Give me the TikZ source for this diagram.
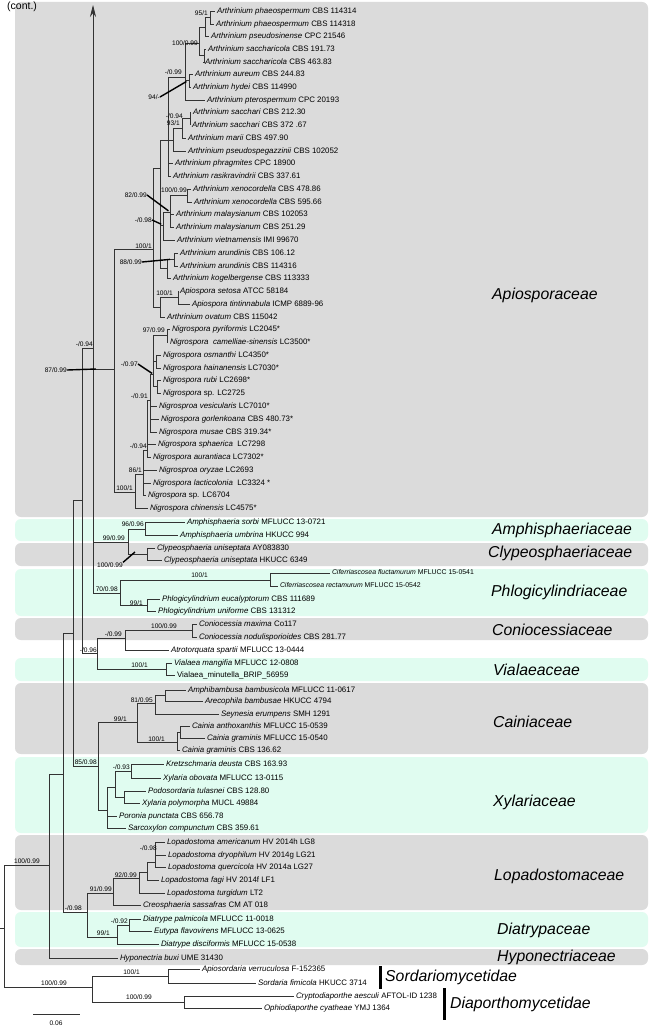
\documentclass[tikz,border=0pt]{standalone}
\usepackage{fontspec}
\setmainfont{Liberation Sans}
\usetikzlibrary{arrows.meta}
\definecolor{boxgray}{RGB}{219,219,219}
\definecolor{boxmint}{RGB}{224,252,240}
\newcommand\lf[5]{\node[tx] (#1) at (#2-2,#3) {\textit{#4}#5};}
\newcommand\lfs[5]{\node[tx,txs] (#1) at (#2-2,#3) {\textit{#4}#5};}
\newcommand\sv[4]{\node[sp] (#1) at (#2,#3) {#4};}
\newcommand\ed[2]{\draw[br] (#1) |- (#2);}
\begin{document}
\begin{tikzpicture}[x=1pt,y=-1pt,
 tx/.style={anchor=west,inner xsep=0pt,inner ysep=0pt,outer xsep=2pt,outer ysep=0pt,text height=5.6pt,text depth=1.5pt,font=\fontsize{7.9}{8}\selectfont},
 txs/.style={font=\fontsize{6.9}{7}\selectfont,text height=4.9pt,text depth=1.3pt},
 sp/.style={anchor=east,inner sep=0pt,font=\fontsize{6.6}{7}\selectfont},
 fam/.style={anchor=west,inner sep=0pt,font=\fontsize{15.8}{16}\selectfont\itshape},
 br/.style={line width=0.7pt,draw=black!80},
 ptr/.style={line width=1.4pt,draw=black},
 gbox/.style={fill=boxgray,rounded corners=6pt},
 mbox/.style={fill=boxmint,rounded corners=6pt}]
\fill[white] (0,0) rectangle (651,1027);
\useasboundingbox (0,0) rectangle (651,1027);
% family boxes
\fill[gbox] (15,2) rectangle (648,517);
\fill[mbox] (15,519) rectangle (648,541);
\fill[gbox] (15,543) rectangle (648,566);
\fill[mbox] (15,569) rectangle (648,616);
\fill[gbox] (15,618) rectangle (648,640);
\fill[mbox] (15,658) rectangle (648,681);
\fill[gbox] (15,683) rectangle (648,754);
\fill[mbox] (15,757) rectangle (648,833);
\fill[gbox] (15,835) rectangle (648,910);
\fill[mbox] (15,912) rectangle (648,947);
\fill[gbox] (15,949) rectangle (648,965);
% family labels
\node[fam] (f1) at (492,295) {Apiosporaceae};
\node[fam] (f2) at (492,530) {Amphisphaeriaceae};
\node[fam] (f3) at (488,553) {Clypeosphaeriaceae};
\node[fam] (f4) at (491,592) {Phlogicylindriaceae};
\node[fam] (f5) at (492,630) {Coniocessiaceae};
\node[fam] (f6) at (493,670) {Vialaeaceae};
\node[fam] (f7) at (493,722) {Cainiaceae};
\node[fam] (f8) at (493,802) {Xylariaceae};
\node[fam] (f9) at (494,876) {Lopadostomaceae};
\node[fam] (f10) at (497,930) {Diatrypaceae};
\node[fam] (f11) at (497,957) {Hyponectriaceae};
\node[fam] (f12) at (385,977) {Sordariomycetidae};
\node[fam] (f13) at (450,1004) {Diaporthomycetidae};
\coordinate (b1t) at (380,966); \coordinate (b1b) at (380,989);
\coordinate (b2t) at (444,988); \coordinate (b2b) at (444,1020);
\draw[line width=3pt] (b1t) -- (b1b);
\draw[line width=3pt] (b2t) -- (b2b);
\node[anchor=west,inner sep=0pt,font=\fontsize{10.5}{11}\selectfont] (cont) at (7,7) {(cont.)};
% leaves
\lf{L1}{217}{11}{Arthrinium phaeospermum}{ CBS 114314}
\lf{L2}{216}{24}{Arthrinium phaeospermum}{ CBS 114318}
\lf{L3}{211}{36}{Arthrinium pseudosinense}{ CPC 21546}
\lf{L4}{208}{49}{Arthrinium saccharicola}{ CBS 191.73}
\lf{L5}{205}{62}{Arthrinium saccharicola}{ CBS 463.83}
\lf{L6}{195}{74}{Arthrinium aureum}{ CBS 244.83}
\lf{L7}{193}{87}{Arthrinium hydei}{ CBS 114990}
\lf{L8}{207}{100}{Arthrinium pterospermum}{ CPC 20193}
\lf{L9}{193}{112}{Arthrinium sacchari}{ CBS 212.30}
\lf{L10}{192}{125}{Arthrinium sacchari}{ CBS 372 .67}
\lf{L11}{188}{138}{Arthrinium marii}{ CBS 497.90}
\lf{L12}{188}{151}{Arthrinium pseudospegazzinii}{ CBS 102052}
\lf{L13}{175}{163}{Arthrinium phragmites}{ CPC 18900}
\lf{L14}{173}{176}{Arthrinium rasikravindrii}{ CBS 337.61}
\lf{L15}{193}{189}{Arthrinium xenocordella}{ CBS 478.86}
\lf{L16}{194}{202}{Arthrinium xenocordella}{ CBS 595.66}
\lf{L17}{176}{214}{Arthrinium malaysianum}{ CBS 102053}
\lf{L18}{176}{227}{Arthrinium malaysianum}{ CBS 251.29}
\lf{L19}{177}{240}{Arthrinium vietnamensis}{ IMI 99670}
\lf{L20}{180}{253}{Arthrinium arundinis}{ CBS 106.12}
\lf{L21}{180}{266}{Arthrinium arundinis}{ CBS 114316}
\lf{L22}{173}{278}{Arthrinium kogelbergense}{ CBS 113333}
\lf{L23}{180}{291}{Apiospora setosa}{ ATCC 58184}
\lf{L24}{192}{304}{Apiospora tintinnabula}{ ICMP 6889-96}
\lf{L25}{167}{317}{Arthrinium ovatum}{ CBS 115042}
\lf{L26}{172}{329}{Nigrospora pyriformis}{ LC2045*}
\lf{L27}{170}{342}{Nigrospora\ \ camelliae-sinensis}{ LC3500*}
\lf{L28}{163}{355}{Nigrospora osmanthi}{ LC4350*}
\lf{L29}{163}{368}{Nigrospora hainanensis}{ LC7030*}
\lf{L30}{163}{380}{Nigrospora rubi}{ LC2698*}
\lf{L31}{163}{393}{Nigrospora}{ sp. LC2725}
\lf{L32}{159}{406}{Nigrosproa vesicularis}{ LC7010*}
\lf{L33}{161}{419}{Nigrospora gorlenkoana}{ CBS 480.73*}
\lf{L34}{159}{432}{Nigrospora musae}{ CBS 319.34*}
\lf{L35}{158}{444}{Nigrospora sphaerica}{\ \ LC7298}
\lf{L36}{153}{457}{Nigrospora aurantiaca}{ LC7302*}
\lf{L37}{159}{470}{Nigrosproa oryzae}{ LC2693}
\lf{L38}{153}{483}{Nigrospora lacticolonia}{\ \ LC3324 *}
\lf{L39}{148}{495}{Nigrospora}{ sp. LC6704}
\lf{L40}{150}{508}{Nigrospora chinensis}{ LC4575*}
\lf{M1}{187}{522}{Amphisphaeria sorbi}{ MFLUCC 13-0721}
\lf{M2}{180}{535}{Amphisphaeria umbrina}{ HKUCC 994}
\lf{M3}{157}{548}{Clypeosphaeria uniseptata}{ AY083830}
\lf{M4}{164}{560}{Clypeosphaeria uniseptata}{ HKUCC 6349}
\lfs{M5}{332}{573}{Ciferriascosea fluctamurum}{ MFLUCC 15-0541}
\lfs{M6}{280}{586}{Ciferriascosea rectamurum}{ MFLUCC 15-0542}
\lf{M7}{162}{599}{Phlogicylindrium eucalyptorum}{ CBS 111689}
\lf{M8}{158}{611}{Phlogicylindrium uniforme}{ CBS 131312}
\lf{M9}{199}{624}{Coniocessia maxima}{ Co117}
\lf{M10}{199}{637}{Coniocessia nodulisporioides}{ CBS 281.77}
\lf{M11}{171}{650}{Atrotorquata spartii}{ MFLUCC 13-0444}
\lf{M12}{174}{663}{Vialaea mangifia}{ MFLUCC 12-0808}
\lf{M13}{177}{675}{}{Vialaea\_minutella\_BRIP\_56959}
\lf{M14}{188}{690}{Amphibambusa bambusicola}{ MFLUCC 11-0617}
\lf{M15}{205}{701}{Arecophila bambusae}{ HKUCC 4794}
\lf{M16}{221}{714}{Seynesia erumpens}{ SMH 1291}
\lf{M17}{192}{726}{Cainia anthoxanthis}{ MFLUCC 15-0539}
\lf{M18}{207}{738}{Cainia graminis}{ MFLUCC 15-0540}
\lf{M19}{182}{750}{Cainia graminis}{ CBS 136.62}
\lf{M20}{166}{764}{Kretzschmaria deusta}{ CBS 163.93}
\lf{M21}{163}{778}{Xylaria obovata}{ MFLUCC 13-0115}
\lf{M22}{148}{791}{Podosordaria tulasnei}{ CBS 128.80}
\lf{M23}{142}{803}{Xylaria polymorpha}{ MUCL 49884}
\lf{M24}{119}{816}{Poronia punctata}{ CBS 656.78}
\lf{M25}{128}{828}{Sarcoxylon compunctum}{ CBS 359.61}
\lf{M26}{167}{842}{Lopadostoma americanum}{ HV 2014h LG8}
\lf{M27}{168}{855}{Lopadostoma dryophilum}{ HV 2014g LG21}
\lf{M28}{168}{867}{Lopadostoma quercicola}{ HV 2014a LG27}
\lf{M29}{161}{880}{Lopadostoma fagi}{ HV 2014f LF1}
\lf{M30}{167}{893}{Lopadostoma turgidum}{ LT2}
\lf{M31}{143}{905}{Creosphaeria sassafras}{ CM AT 018}
\lf{M32}{143}{919}{Diatrype palmicola}{ MFLUCC 11-0018}
\lf{M33}{154}{931}{Eutypa flavovirens}{ MFLUCC 13-0625}
\lf{M34}{161}{944}{Diatrype disciformis}{ MFLUCC 15-0538}
\lf{M35}{120}{958}{Hyponectria buxi}{ UME 31430}
\lf{M36}{202}{969}{Apiosordaria verruculosa}{ F-152365}
\lf{M37}{258}{983}{Sordaria fimicola}{ HKUCC 3714}
\lf{M38}{296}{996}{Cryptodiaporthe aesculi}{ AFTOL-ID 1238}
\lf{M39}{264}{1008}{Ophiodiaporthe cyatheae}{ YMJ 1364}
% internal nodes: Apiosporaceae
\coordinate (c12) at (210,17.5);
\coordinate (c123) at (205,27);
\coordinate (c45) at (204,55);
\coordinate (c15) at (199,43);
\coordinate (c67) at (189,80);
\coordinate (c18) at (185,77);
\coordinate (c910) at (190,118);
\coordinate (c911) at (182,128);
\coordinate (c912) at (173,140);
\coordinate (cA) at (168,140);
\coordinate (cXen) at (187,195);
\coordinate (cMal) at (170,212);
\coordinate (cMV) at (163,225);
\coordinate (cAru) at (174,259);
\coordinate (cAK) at (167,268);
\coordinate (cB) at (160,168);
\coordinate (cApo) at (178,297);
\coordinate (cAO) at (160,307);
\coordinate (cArth) at (153,249);
\coordinate (cPyr) at (167,335.5);
\coordinate (cOH) at (156,361.5);
\coordinate (cRS) at (157,386.5);
\coordinate (c97) at (153,374);
\coordinate (c91) at (150,400);
\coordinate (c94) at (147,450);
\coordinate (c86) at (143,474);
\coordinate (cNig) at (135,492);
\coordinate (cApio) at (114,369);
% internal nodes: rest
\coordinate (n93) at (93,348);
\coordinate (arrtop) at (93,5);
\coordinate (cAm) at (145,529);
\coordinate (cCl) at (147,554);
\coordinate (cAC) at (128,542);
\coordinate (cCif) at (270,580);
\coordinate (cPhl) at (147,605);
\coordinate (cPh) at (120,593);
\coordinate (cCo) at (192,630);
\coordinate (cCA) at (125,638);
\coordinate (cVi) at (166,669);
\coordinate (n97) at (97,653);
\coordinate (n82) at (82,500);
\coordinate (cAA) at (165,695);
\coordinate (c81) at (155,703);
\coordinate (cCG) at (180,732);
\coordinate (c100C) at (177,742);
\coordinate (cCai) at (137,722);
\coordinate (c93x) at (131,771);
\coordinate (c124) at (124,797);
\coordinate (c115) at (115,787);
\coordinate (cXy) at (107,810);
\coordinate (n98) at (98,766);
\coordinate (n73) at (73,633);
\coordinate (cL98) at (155,862);
\coordinate (cL147) at (147,872);
\coordinate (cL139) at (139,878);
\coordinate (cL91) at (113,893);
\coordinate (c92d) at (129,925);
\coordinate (cD99) at (117,937);
\coordinate (n87) at (87,912);
\coordinate (n63) at (63,774);
\coordinate (n49) at (49,865);
\coordinate (cSo) at (168,976);
\coordinate (cDi) at (184,1002);
\coordinate (cOut) at (92,987);
\coordinate (root) at (4,928);
\coordinate (rootst) at (0,928);
\coordinate (sb1) at (33,1014);
\coordinate (sb2) at (80,1014);
% edges
\ed{c12}{L1.west}\ed{c12}{L2.west}
\ed{c123}{c12}\ed{c123}{L3.west}
\ed{c45}{L4.west}\ed{c45}{L5.west}
\ed{c15}{c123}\ed{c15}{c45}
\ed{c67}{L6.west}\ed{c67}{L7.west}
\ed{c18}{c15}\ed{c18}{c67}\ed{c18}{L8.west}
\ed{c910}{L9.west}\ed{c910}{L10.west}
\ed{c911}{c910}\ed{c911}{L11.west}
\ed{c912}{c911}\ed{c912}{L12.west}
\ed{cA}{c18}\ed{cA}{c912}\ed{cA}{L13.west}\ed{cA}{L14.west}
\ed{cXen}{L15.west}\ed{cXen}{L16.west}
\ed{cMal}{cXen}\ed{cMal}{L17.west}\ed{cMal}{L18.west}
\ed{cMV}{cMal}\ed{cMV}{L19.west}
\ed{cAru}{L20.west}\ed{cAru}{L21.west}
\ed{cAK}{cAru}\ed{cAK}{L22.west}
\ed{cB}{cA}\ed{cB}{cMV}\ed{cB}{cAK}
\ed{cApo}{L23.west}\ed{cApo}{L24.west}
\ed{cAO}{cApo}\ed{cAO}{L25.west}
\ed{cArth}{cB}\ed{cArth}{cAO}
\ed{cPyr}{L26.west}\ed{cPyr}{L27.west}
\ed{cOH}{L28.west}\ed{cOH}{L29.west}
\ed{cRS}{L30.west}\ed{cRS}{L31.west}
\ed{c97}{cPyr}\ed{c97}{cOH}\ed{c97}{cRS}
\ed{c91}{c97}\ed{c91}{L32.west}\ed{c91}{L33.west}\ed{c91}{L34.west}
\ed{c94}{c91}\ed{c94}{L35.west}\ed{c94}{L36.west}
\ed{c86}{c94}\ed{c86}{L37.west}\ed{c86}{L38.west}\ed{c86}{L39.west}
\ed{cNig}{c86}\ed{cNig}{L40.west}
\ed{cApio}{cArth}\ed{cApio}{cNig}
\ed{n93}{cApio}\ed{n93}{cAC}\ed{n93}{cPh}
\draw[br,-{Stealth[length=12pt,width=6pt]}] (n93) -- (arrtop);
\ed{cAm}{M1.west}\ed{cAm}{M2.west}
\ed{cCl}{M3.west}\ed{cCl}{M4.west}
\ed{cAC}{cAm}\ed{cAC}{cCl}
\ed{cCif}{M5.west}\ed{cCif}{M6.west}
\ed{cPhl}{M7.west}\ed{cPhl}{M8.west}
\ed{cPh}{cCif}\ed{cPh}{cPhl}
\ed{cCo}{M9.west}\ed{cCo}{M10.west}
\ed{cCA}{cCo}\ed{cCA}{M11.west}
\ed{cVi}{M12.west}\ed{cVi}{M13.west}
\ed{n97}{cCA}\ed{n97}{cVi}
\ed{n82}{n93}\ed{n82}{n97}
\ed{cAA}{M14.west}\ed{cAA}{M15.west}
\ed{c81}{cAA}\ed{c81}{M16.west}
\ed{cCG}{M17.west}\ed{cCG}{M18.west}
\ed{c100C}{cCG}\ed{c100C}{M19.west}
\ed{cCai}{c81}\ed{cCai}{c100C}
\ed{c93x}{M20.west}\ed{c93x}{M21.west}
\ed{c124}{M22.west}\ed{c124}{M23.west}
\ed{c115}{c93x}\ed{c115}{c124}
\ed{cXy}{c115}\ed{cXy}{M24.west}\ed{cXy}{M25.west}
\ed{n98}{cCai}\ed{n98}{cXy}
\ed{n73}{n82}\ed{n73}{n98}
\ed{cL98}{M26.west}\ed{cL98}{M27.west}\ed{cL98}{M28.west}
\ed{cL147}{cL98}\ed{cL147}{M29.west}
\ed{cL139}{cL147}\ed{cL139}{M30.west}
\ed{cL91}{cL139}\ed{cL91}{M31.west}
\ed{c92d}{M32.west}\ed{c92d}{M33.west}
\ed{cD99}{c92d}\ed{cD99}{M34.west}
\ed{n87}{cL91}\ed{n87}{cD99}
\ed{n63}{n73}\ed{n63}{n87}
\ed{n49}{n63}\ed{n49}{M35.west}
\ed{cSo}{M36.west}\ed{cSo}{M37.west}
\ed{cDi}{M38.west}\ed{cDi}{M39.west}
\ed{cOut}{cSo}\ed{cOut}{cDi}
\ed{root}{n49}\ed{root}{cOut}
\draw[br] (rootst) -- (root);
\draw[br] (sb1) -- (sb2);
\node[sp,anchor=center] (sbl) at (56,1023) {0.06};
% support values
\sv{s1}{208}{13}{95/1}
\sv{s2}{198}{43}{100/0.99}
\sv{s3}{182}{72}{-/0.99}
\sv{s4}{160}{97}{94/-}
\sv{s5}{183}{116}{-/0.94}
\sv{s6}{180}{123}{93/1}
\sv{s7}{187}{190}{100/0.99}
\sv{s8}{147}{195}{82/0.99}
\sv{s9}{152}{220}{-/0.98}
\sv{s10}{152}{246}{100/1}
\sv{s11}{142}{262}{88/0.99}
\sv{s12}{173}{293}{100/1}
\sv{s13}{165}{330}{97/0.99}
\sv{s14}{93}{344}{-/0.94}
\sv{s15}{138}{364}{-/0.97}
\sv{s16}{67}{370}{87/0.99}
\sv{s17}{148}{396}{-/0.91}
\sv{s18}{147}{446}{-/0.94}
\sv{s19}{142}{470}{86/1}
\sv{s20}{133}{488}{100/1}
\sv{s21}{144}{524}{96/0.96}
\sv{s22}{125}{538}{99/0.99}
\sv{s23}{123}{565}{100/0.99}
\sv{s24}{208}{575}{100/1}
\sv{s25}{118}{589}{70/0.98}
\sv{s26}{143}{603}{99/1}
\sv{s27}{177}{626}{100/0.99}
\sv{s28}{122}{634}{-/0.99}
\sv{s29}{97}{650}{-/0.96}
\sv{s30}{148}{665}{100/1}
\sv{s31}{153}{700}{81/0.95}
\sv{s32}{127}{719}{99/1}
\sv{s33}{165}{739}{100/1}
\sv{s34}{97}{762}{85/0.98}
\sv{s35}{130}{767}{-/0.93}
\sv{s36}{157}{848}{-/0.98}
\sv{s37}{40}{861}{100/0.99}
\sv{s38}{137}{875}{92/0.99}
\sv{s39}{112}{889}{91/0.99}
\sv{s40}{82}{908}{-/0.98}
\sv{s41}{128}{921}{-/0.92}
\sv{s42}{110}{933}{99/1}
\sv{s43}{140}{972}{100/1}
\sv{s44}{67}{983}{100/0.99}
\sv{s45}{152}{997}{100/0.99}
% pointers
\coordinate (p16) at (96,369);
\coordinate (p23) at (135,552);
\draw[ptr,shorten >=3pt] (s4.east) -- (c67);
\draw[ptr,shorten >=2pt] (s8.east) -- (cMal);
\draw[ptr,shorten >=2pt] (s9.east) -- (cMV);
\draw[ptr,shorten >=4pt] (s11.east) -- (cAru);
\draw[ptr,shorten >=1pt] (s15.east) -- (c97);
\draw[ptr] (s16.east) -- (p16);
\draw[ptr] (s23.north east) -- (p23);
\end{tikzpicture}
\end{document}
